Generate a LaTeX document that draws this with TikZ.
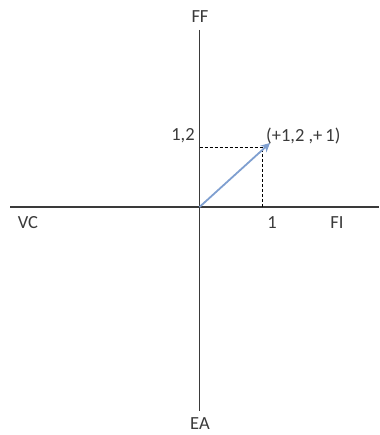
\documentclass[tikz,border=0pt]{standalone}
\usepackage{fontspec}
\setmainfont{Carlito}
\usetikzlibrary{arrows.meta}
\definecolor{axisgray}{HTML}{3A3A3A}
\definecolor{vecblue}{HTML}{7F9FD0}
\begin{document}
\begin{tikzpicture}[x=1pt,y=-1pt,
  every node/.style={font=\fontsize{18.5}{21}\selectfont, text=axisgray, inner sep=0pt},
  axisline/.style={draw=axisgray, line width=1.6pt},
  guide/.style={draw=black, line width=0.9pt, dash pattern=on 3pt off 2pt},
  vector/.style={draw=vecblue, line width=1.8pt, -{Stealth[length=9pt,width=9pt]}}]
\useasboundingbox (0,0) rectangle (379,435);
\coordinate (O) at (199.5,207);
\coordinate (top) at (199.5,30);
\coordinate (bot) at (199.5,411);
\coordinate (left) at (10,207);
\coordinate (right) at (379,207);
\coordinate (P) at (270,143);
\coordinate (px) at (262.5,207);
\coordinate (py) at (199.5,147);
\coordinate (pc) at (262.5,147);
\draw[axisline] (top) -- (bot);
\draw[axisline] (left) -- (right);
\draw[guide] (py) -- (pc) -- (px);
\draw[vector] (O) -- (P);
\node (ff) at (200,17) {FF};
\node (ea) at (200,424) {EA};
\node (vc) at (28,223) {VC};
\node (fi) at (337,223) {FI};
\node (one) at (272,223) {1};
\node (onetwo) at (183,136) {1,2};
\node[anchor=west] (pt) at (266,136) {(+1,2 ,+\,1)};
\end{tikzpicture}
\end{document}
